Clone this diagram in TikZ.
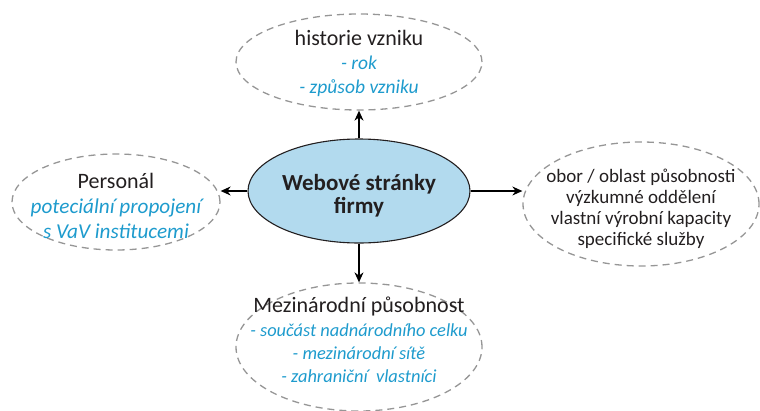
\documentclass[tikz,border=0pt]{standalone}
\usepackage{fontspec}
\setmainfont{Carlito}
\usetikzlibrary{shapes.geometric, positioning, arrows.meta}

\definecolor{infoblue}{RGB}{30,155,205}
\definecolor{webfill}{RGB}{178,218,238}
\definecolor{dashgray}{RGB}{150,150,150}
\definecolor{textdark}{RGB}{35,31,32}

\newcommand{\blueline}[2]{{\color{infoblue}\itshape\fontsize{#1}{#1}\selectfont #2}}

\begin{document}
\begin{tikzpicture}[x=1pt,y=-1pt,on grid,>={Stealth[length=10pt,width=9pt]},
    topic/.style={ellipse,draw=dashgray,dash pattern=on 7pt off 5pt,line width=1.3pt,inner sep=0pt},
    hub/.style={ellipse,draw=textdark,fill=webfill,line width=1.1pt,inner sep=0pt},
    lbl/.style={align=center,text=textdark,inner sep=0pt},
    link/.style={->,line width=1.2pt,draw=black}]
  \useasboundingbox (0,0) rectangle (760,410);

  \node[hub,minimum width=222pt,minimum height=104pt,
    label={[lbl,yshift=-5pt,font=\bfseries\fontsize{23}{23}\selectfont]center:Webové stránky\\firmy}]
    (web) at (359,191) {};
  \node[topic,minimum width=246pt,minimum height=96pt,
    label={[lbl,yshift=-1.5pt,font=\fontsize{22}{24}\selectfont]center:historie vzniku\\\blueline{19.5}{- rok}\\\blueline{19.5}{- způsob vzniku}}]
    (hist) [above=129pt of web] {};
  \node[topic,minimum width=208pt,minimum height=96pt,
    label={[lbl,yshift=-4pt,font=\fontsize{22}{25}\selectfont]center:Personál\\\blueline{21.2}{poteciální propojení}\\\blueline{21.2}{s VaV institucemi}}]
    (pers) [below left=11pt and 243pt of web] {};
  \node[topic,minimum width=236pt,minimum height=124pt,
    label={[lbl,yshift=-5pt,font=\fontsize{19}{21}\selectfont]center:obor / oblast působnosti\\výzkumné oddělení\\vlastní výrobní kapacity\\specifické služby}]
    (obor) [below right=13pt and 282pt of web] {};
  \node[topic,minimum width=246pt,minimum height=128pt,
    label={[lbl,yshift=7pt,font=\fontsize{22}{23.3}\selectfont]center:Mezinárodní působnost\\\blueline{18.4}{- součást nadnárodního celku}\\\blueline{18.4}{- mezinárodní sítě}\\\blueline{18.4}{- zahraniční~ vlastníci}}]
    (mez) [below=156pt of web] {};

  \draw[link] (web.north) -- (web.north |- hist.south);
  \draw[link] (web.west) -- (web.west -| pers.east);
  \draw[link] (web.east) -- (web.east -| obor.west);
  \draw[link] (web.south) -- (web.south |- mez.north);
\end{tikzpicture}
\end{document}
